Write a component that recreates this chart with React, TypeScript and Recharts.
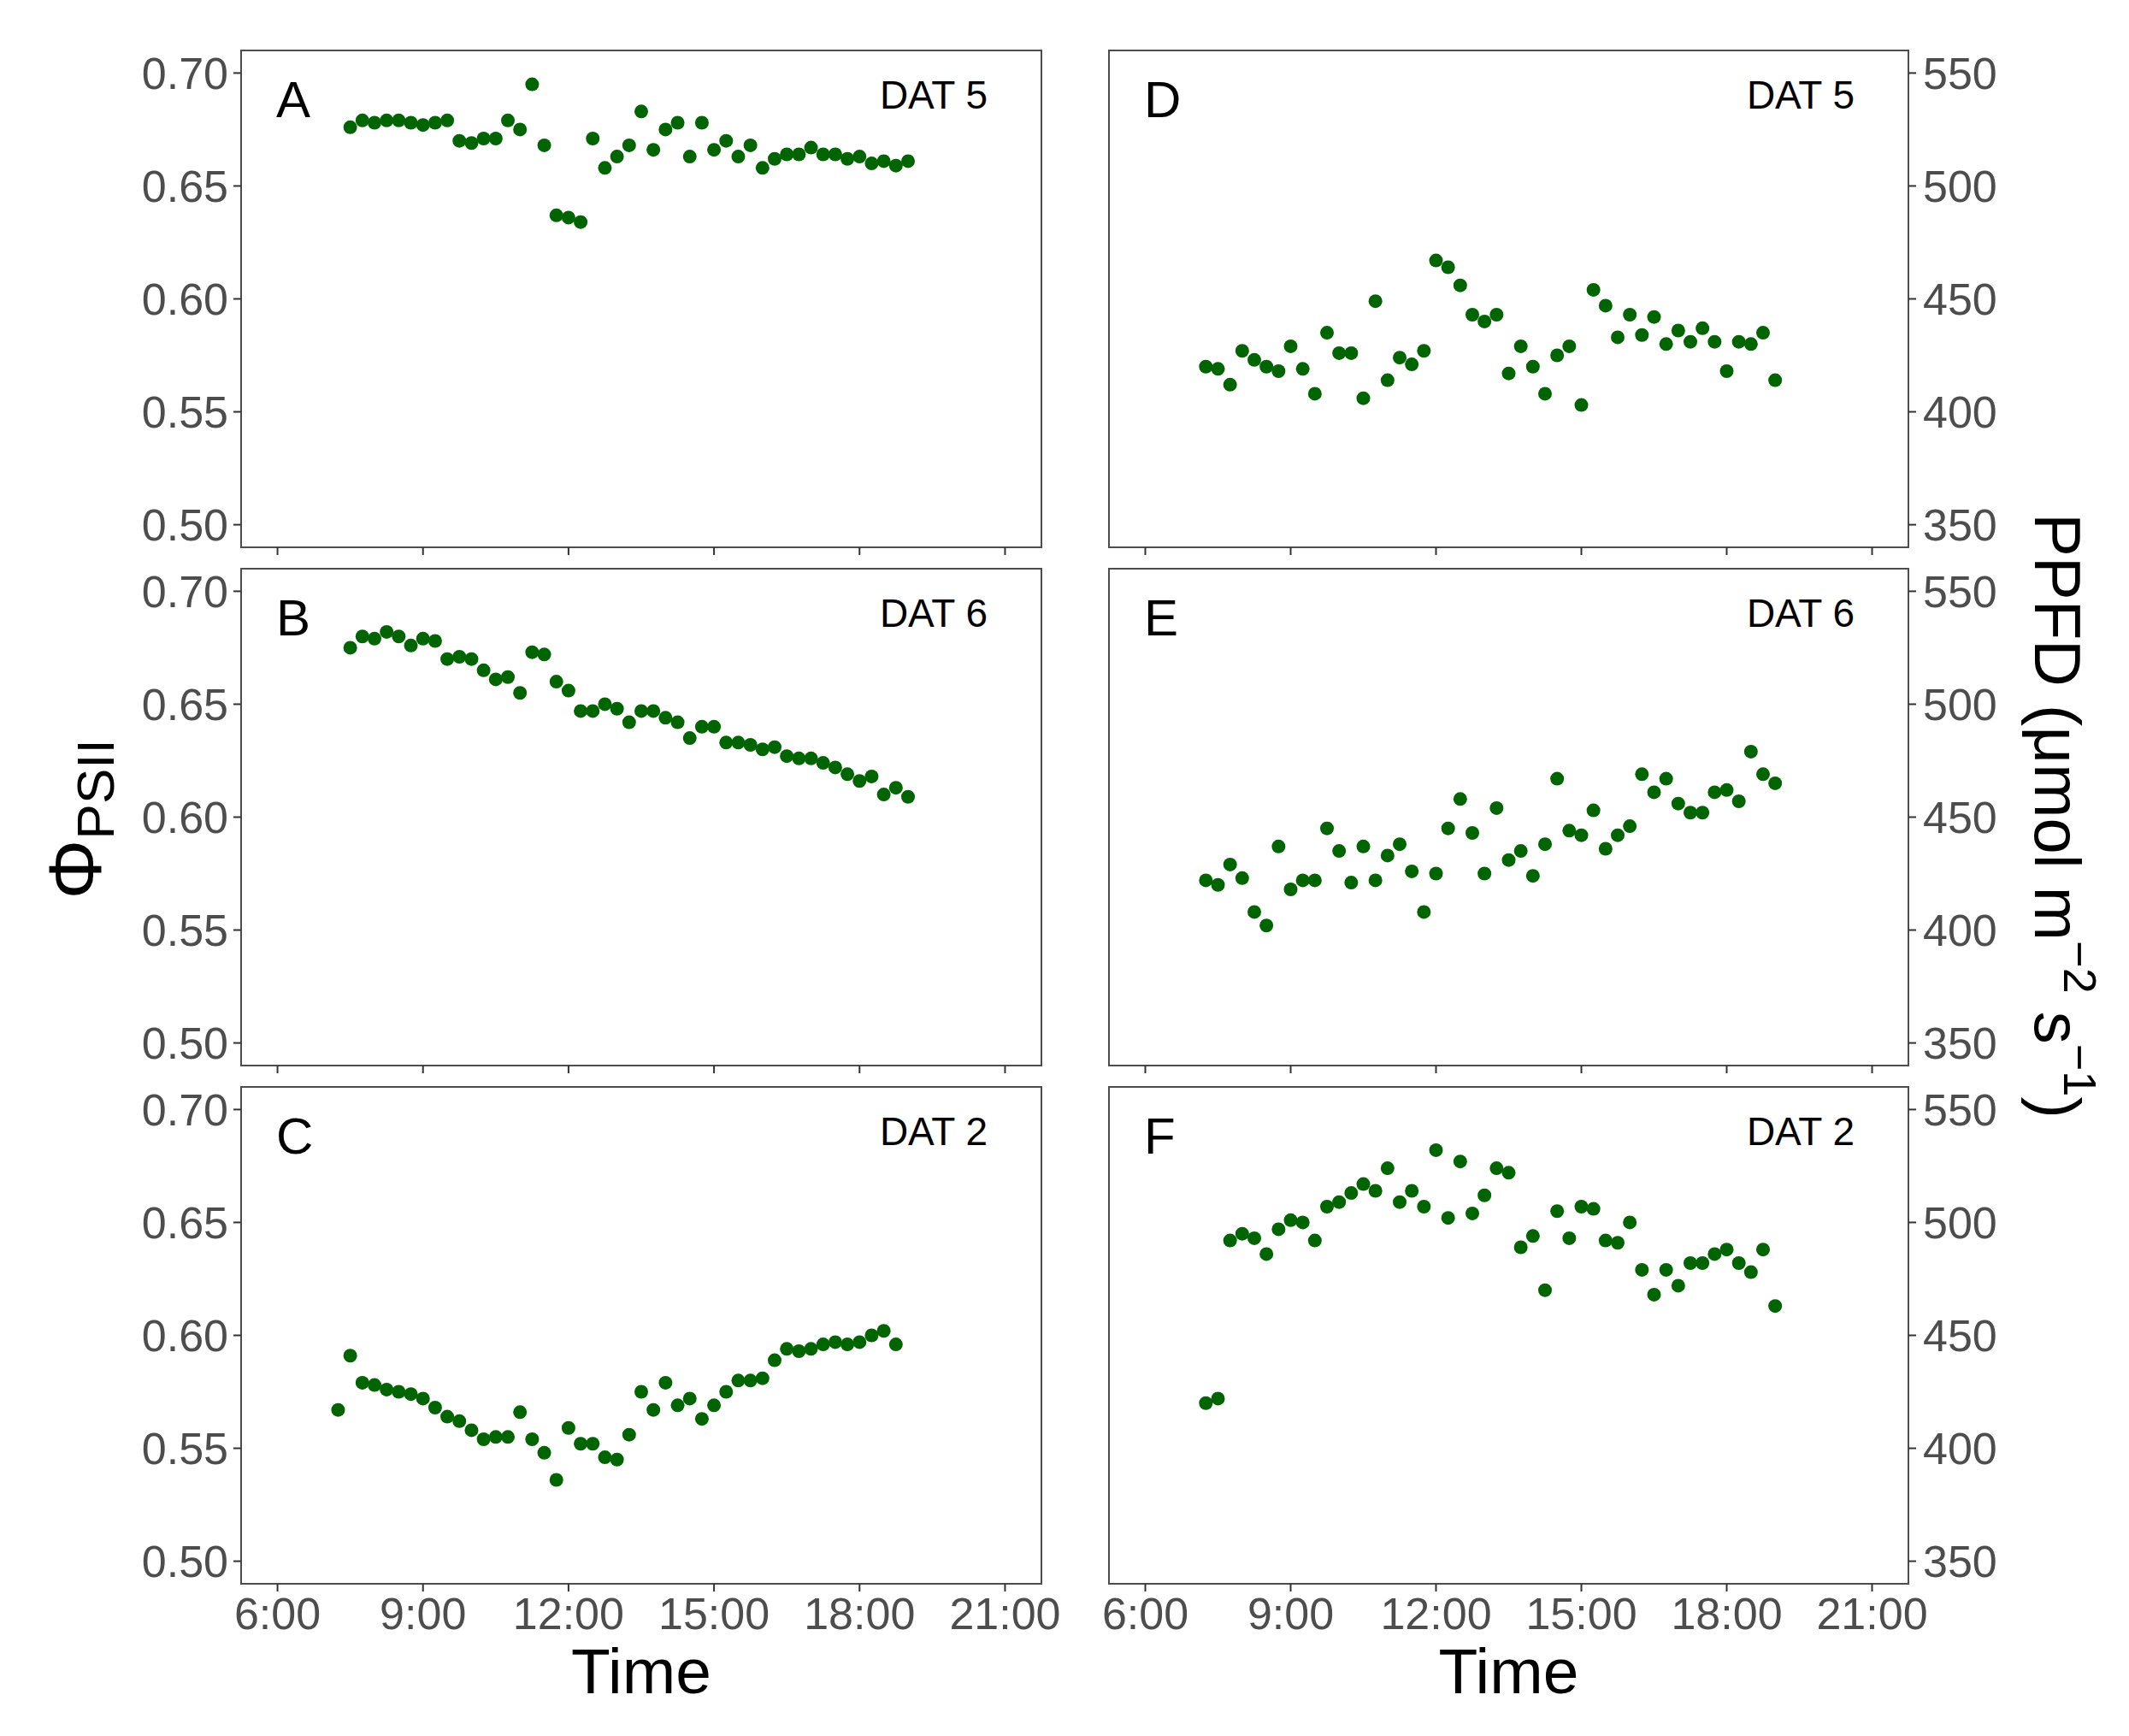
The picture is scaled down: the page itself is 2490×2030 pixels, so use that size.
import React from 'react';
import { ScatterChart, Scatter, XAxis, YAxis, ReferenceArea } from 'recharts';

// sampling times (hours), every 15 min
const timesAB = [7.5, 7.75, 8, 8.25, 8.5, 8.75, 9, 9.25, 9.5, 9.75, 10, 10.25, 10.5, 10.75, 11, 11.25, 11.5, 11.75, 12, 12.25, 12.5, 12.75, 13, 13.25, 13.5, 13.75, 14, 14.25, 14.5, 14.75, 15, 15.25, 15.5, 15.75, 16, 16.25, 16.5, 16.75, 17, 17.25, 17.5, 17.75, 18, 18.25, 18.5, 18.75, 19];
const timesC = [7.25, 7.5, 7.75, 8, 8.25, 8.5, 8.75, 9, 9.25, 9.5, 9.75, 10, 10.25, 10.5, 10.75, 11, 11.25, 11.5, 11.75, 12, 12.25, 12.5, 12.75, 13, 13.25, 13.5, 13.75, 14, 14.25, 14.5, 14.75, 15, 15.25, 15.5, 15.75, 16, 16.25, 16.5, 16.75, 17, 17.25, 17.5, 17.75, 18, 18.25, 18.5, 18.75];
const timesDEF = [7.25, 7.5, 7.75, 8, 8.25, 8.5, 8.75, 9, 9.25, 9.5, 9.75, 10, 10.25, 10.5, 10.75, 11, 11.25, 11.5, 11.75, 12, 12.25, 12.5, 12.75, 13, 13.25, 13.5, 13.75, 14, 14.25, 14.5, 14.75, 15, 15.25, 15.5, 15.75, 16, 16.25, 16.5, 16.75, 17, 17.25, 17.5, 17.75, 18, 18.25, 18.5, 18.75, 19];

// ΦPSII
const phiA = [0.676, 0.679, 0.678, 0.679, 0.679, 0.678, 0.677, 0.678, 0.679, 0.670, 0.669, 0.671, 0.671, 0.679, 0.675, 0.695, 0.668, 0.637, 0.636, 0.634, 0.671, 0.658, 0.663, 0.668, 0.683, 0.666, 0.675, 0.678, 0.663, 0.678, 0.666, 0.670, 0.663, 0.668, 0.658, 0.662, 0.664, 0.664, 0.667, 0.664, 0.664, 0.662, 0.663, 0.660, 0.661, 0.659, 0.661];
const phiB = [0.675, 0.680, 0.679, 0.682, 0.680, 0.676, 0.679, 0.678, 0.670, 0.671, 0.670, 0.665, 0.661, 0.662, 0.655, 0.673, 0.672, 0.660, 0.656, 0.647, 0.647, 0.650, 0.648, 0.642, 0.647, 0.647, 0.644, 0.642, 0.635, 0.640, 0.640, 0.633, 0.633, 0.632, 0.630, 0.631, 0.627, 0.626, 0.626, 0.624, 0.622, 0.619, 0.616, 0.618, 0.610, 0.613, 0.609];
const phiC = [0.567, 0.591, 0.579, 0.578, 0.576, 0.575, 0.574, 0.572, 0.568, 0.564, 0.562, 0.558, 0.554, 0.555, 0.555, 0.566, 0.554, 0.548, 0.536, 0.559, 0.552, 0.552, 0.546, 0.545, 0.556, 0.575, 0.567, 0.579, 0.569, 0.572, 0.563, 0.569, 0.575, 0.580, 0.580, 0.581, 0.589, 0.594, 0.593, 0.594, 0.596, 0.597, 0.596, 0.597, 0.600, 0.602, 0.596];

// PPFD (µmol m-2 s-1)
const ppfdD = [420, 419, 412, 427, 423, 420, 418, 429, 419, 408, 435, 426, 426, 406, 449, 414, 424, 421, 427, 467, 464, 456, 443, 440, 443, 417, 429, 420, 408, 425, 429, 403, 454, 447, 433, 443, 434, 442, 430, 436, 431, 437, 431, 418, 431, 430, 435, 414];
const ppfdE = [422, 420, 429, 423, 408, 402, 437, 418, 422, 422, 445, 435, 421, 437, 422, 433, 438, 426, 408, 425, 445, 458, 443, 425, 454, 431, 435, 424, 438, 467, 444, 442, 453, 436, 442, 446, 469, 461, 467, 456, 452, 452, 461, 462, 457, 479, 469, 465];
const ppfdF = [420, 422, 492, 495, 493, 486, 497, 501, 500, 492, 507, 509, 513, 517, 514, 524, 509, 514, 507, 532, 502, 527, 504, 512, 524, 522, 489, 494, 470, 505, 493, 507, 506, 492, 491, 500, 479, 468, 479, 472, 482, 482, 486, 488, 482, 478, 488, 463];

const hourTicks = [6, 9, 12, 15, 18, 21];
const phiTicks = [0.5, 0.55, 0.6, 0.65, 0.7];
const ppfdTicks = [350, 400, 450, 500, 550];

const FONT = '"Liberation Sans", Arial, Helvetica, sans-serif';
const GREEN = '#006400';
const AXIS_GREY = '#4d4d4d';
const BOX_H = 581;
const ROW_TOP = [59, 665, 1271];
const LEFT_X = 282;
const LEFT_W = 936;
const RIGHT_X = 1297;
const RIGHT_W = 935;
const X_DOMAIN: [number, number] = [5.25, 21.75];

const toRows = (t: number[], v: number[]) => t.map((x, i) => ({ t: x, v: v[i] }));

const Dot = (p: any) => <circle cx={p.cx} cy={p.cy} r={8} fill={GREEN} />;

interface PanelProps {
  side: 'left' | 'right';
  row: number;
  times: number[];
  values: number[];
}

const Panel: React.FC<PanelProps> = ({ side, row, times, values }) => {
  const left = side === 'left';
  const boxX = left ? LEFT_X : RIGHT_X;
  const boxW = left ? LEFT_W : RIGHT_W;
  const pad = 70;
  const axisW = left ? 282 : 250;
  const width = axisW + boxW + pad;
  const height = 20 + BOX_H + 80;
  const chartLeft = left ? boxX - axisW : boxX - pad;
  const yDomain: [number, number] = left ? [0.49, 0.71] : [340, 560];
  const bottom = row === 2;
  const tickStyle = { fill: AXIS_GREY, fontSize: 52, fontFamily: FONT };

  return (
    <div style={{ position: 'absolute', left: chartLeft, top: ROW_TOP[row] - 20 }}>
      <ScatterChart
        width={width}
        height={height}
        margin={{ top: 20, right: left ? pad : 0, bottom: 0, left: left ? 0 : pad }}
      >
        <XAxis
          type="number"
          dataKey="t"
          domain={X_DOMAIN}
          ticks={hourTicks}
          allowDataOverflow
          height={80}
          axisLine={false}
          tickLine={{ stroke: '#333333', strokeWidth: 2 }}
          tickSize={9}
          tickMargin={7}
          tick={tickStyle}
          tickFormatter={(h: number) => (bottom ? `${h}:00` : '')}
        />
        <YAxis
          type="number"
          dataKey="v"
          orientation={left ? 'left' : 'right'}
          width={axisW}
          domain={yDomain}
          ticks={left ? phiTicks : ppfdTicks}
          allowDataOverflow
          axisLine={false}
          tickLine={{ stroke: '#333333', strokeWidth: 2 }}
          tickSize={9}
          tickMargin={left ? 6 : 8}
          tick={tickStyle}
          tickFormatter={(v: number) => (left ? v.toFixed(2) : String(v))}
        />
        <ReferenceArea
          x1={X_DOMAIN[0]}
          x2={X_DOMAIN[1]}
          y1={yDomain[0]}
          y2={yDomain[1]}
          fill="none"
          stroke={AXIS_GREY}
          strokeWidth={2}
          ifOverflow="visible"
        />
        <Scatter data={toRows(times, values)} shape={Dot} isAnimationActive={false} />
      </ScatterChart>
    </div>
  );
};

const panels: { side: 'left' | 'right'; row: number; times: number[]; values: number[]; letter: string; dat: string }[] = [
  { side: 'left', row: 0, times: timesAB, values: phiA, letter: 'A', dat: 'DAT 5' },
  { side: 'left', row: 1, times: timesAB, values: phiB, letter: 'B', dat: 'DAT 6' },
  { side: 'left', row: 2, times: timesC, values: phiC, letter: 'C', dat: 'DAT 2' },
  { side: 'right', row: 0, times: timesDEF, values: ppfdD, letter: 'D', dat: 'DAT 5' },
  { side: 'right', row: 1, times: timesDEF, values: ppfdE, letter: 'E', dat: 'DAT 6' },
  { side: 'right', row: 2, times: timesDEF, values: ppfdF, letter: 'F', dat: 'DAT 2' },
];

export default function App() {
  return (
    <div style={{ position: 'absolute', left: 0, top: 0, width: 2490, height: 2030, background: '#fff', overflow: 'hidden' }}>
      {panels.map((p) => (
        <Panel key={p.letter} side={p.side} row={p.row} times={p.times} values={p.values} />
      ))}
      <svg width={2490} height={2030} style={{ position: 'absolute', left: 0, top: 0, pointerEvents: 'none' }} fontFamily={FONT}>
        {panels.map((p) => {
          const boxX = p.side === 'left' ? LEFT_X : RIGHT_X;
          const boxW = p.side === 'left' ? LEFT_W : RIGHT_W;
          const top = ROW_TOP[p.row];
          return (
            <g key={p.letter}>
              <text x={boxX + 41} y={top + 78} fontSize={60} fill="#000">{p.letter}</text>
              <text x={boxX + boxW - 63} y={top + 68} fontSize={46} fill="#000" textAnchor="end">{p.dat}</text>
            </g>
          );
        })}
        <text x={750} y={1980} fontSize={75} textAnchor="middle" fill="#000">Time</text>
        <text x={1764.5} y={1980} fontSize={75} textAnchor="middle" fill="#000">Time</text>
        <text transform="translate(118, 958) rotate(-90)" textAnchor="middle" fill="#000">
          <tspan fontSize={88}>Φ</tspan>
          <tspan fontSize={62} dy={15}>PSII</tspan>
        </text>
        <text transform="translate(2380, 954) rotate(90)" textAnchor="middle" fill="#000" fontSize={76}>
          <tspan>PPFD (μmol m</tspan>
          <tspan fontSize={54} dy={-34}>−2</tspan>
          <tspan dy={34}> s</tspan>
          <tspan fontSize={54} dy={-34}>−1</tspan>
          <tspan dy={34}>)</tspan>
        </text>
      </svg>
    </div>
  );
}
